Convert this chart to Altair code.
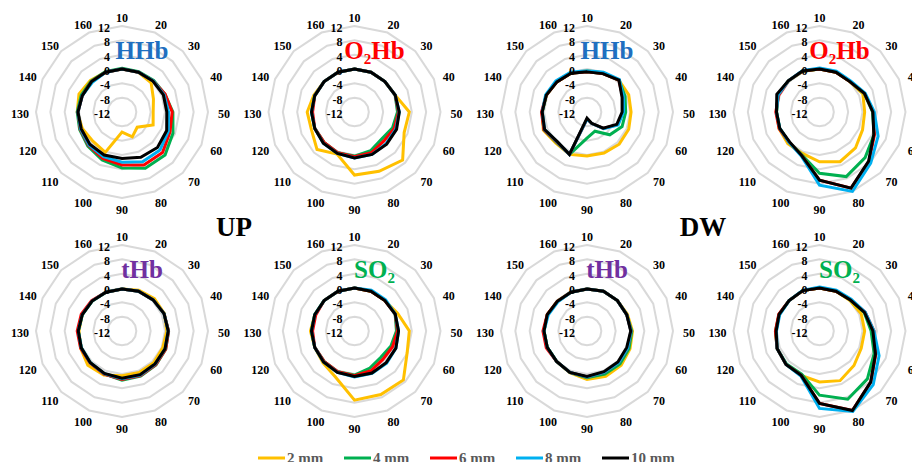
import altair as alt
import pandas as pd

# ---------------- data ----------------
ANGLES = [10, 20, 30, 40, 50, 60, 70, 80, 90, 100, 110, 120, 130, 140, 150, 160]
SERIES = ["2 mm", "4 mm", "6 mm", "8 mm", "10 mm"]
SERIES_COLORS = ["#FFC000", "#00B050", "#FF0000", "#00B0F0", "#000000"]
RING_VALUES = [-8, -4, 0, 4, 8, 12]
TICK_LABELS = [12, 8, 4, 0, -4, -8, -12]
PANEL_TITLES = ["HHb", "O₂Hb", "HHb", "O₂Hb", "tHb", "SO₂", "tHb", "SO₂"]
TITLE_COLORS = ["#1F6FC0", "#FF0000", "#1F6FC0", "#FF0000", "#7030A0", "#00B050", "#7030A0", "#00B050"]
GROUP_LABELS = ["UP", "DW"]

UP_HHB = {
    "2 mm":  [0, 0, -0.5, -2.5, -3.3, -2.6, -6, -4.5, -6.4, 0.2, -0.5, 0, 0.5, 1, 0.5, 0],
    "4 mm":  [0.2, 0.2, 0.5, 1, 2.2, 3.4, 5, 5, 3.6, 2.5, 1.5, 0.8, 0.5, 0.3, 0.2, 0.2],
    "6 mm":  [0, 0, 0.3, 1, 2, 2.5, 4, 4, 2.8, 2, 1.2, 0.6, 0.3, 0, 0, 0],
    "8 mm":  [0, 0, 0.3, 0.7, 1, 2, 3, 3, 2, 1.5, 1, 0.5, 0.3, 0, -0.3, 0],
    "10 mm": [0, 0, 0.2, 0.5, 0.5, 1.5, 2, 1.7, 1, 1, 0.7, 0.3, 0.3, 0, 0, 0],
}
UP_O2HB = {
    "2 mm":  [0, 0, 0, 0.3, 3.3, 3, 7, 5.9, 5.6, 0.7, 2.8, 1, 1.2, 0.3, 0, 0],
    "4 mm":  [0, 0, 0, 0.3, 0, -0.5, -1.3, -0.3, 0.3, 0.3, 0, 0, 0, 0, 0, 0],
    "6 mm":  [0, 0, 0, 0.3, 0.3, 0, -0.5, 0.3, 0.5, 0.3, 0, 0, -0.3, 0, 0, 0],
    "8 mm":  [0, 0, 0, 0.3, 0.5, 0.5, 0.5, 0.8, 0.8, 0.5, 0.3, 0, 0, 0, 0, 0],
    "10 mm": [0, 0, 0, 0.3, 0.5, 0.7, 0.7, 0.8, 0.8, 0.5, 0.3, 0, 0, 0, 0, 0],
}
DW_HHB = {
    "2 mm":  [-0.5, -0.2, 0.6, 0.6, 0.3, 0.6, 0.7, 0.4, 0.3, 0.8, 0.3, 1.2, 0.5, 0.3, -0.1, -0.3],
    "4 mm":  [-0.8, -0.4, 0.6, -0.5, -1.2, -1.4, -3, -6.2, -4.7, 0.8, 0, 1, 0.5, 0.3, -0.1, -0.3],
    "6 mm":  [-0.8, -0.4, 0.6, -1.2, -2, -2.8, -5.5, -8.5, -10, 0.8, -0.1, 1, 0.7, 0.3, -0.1, -0.3],
    "8 mm":  [-0.5, 0, 0.8, -1, -1.8, -2.6, -5.4, -8.5, -10, 0.8, -0.2, 0.8, 0.5, 0.5, 0.3, 0],
    "10 mm": [-0.8, -0.4, 0.6, -1.4, -2.2, -3, -5.6, -8.6, -10.3, 0.8, -0.3, 0.8, 0.5, 0.3, -0.1, -0.3],
}
DW_O2HB = {
    "2 mm":  [0, 0, 0, 1.1, 0.6, 1, 2.2, 3, 1.9, 0.5, 0.5, 0.2, 0, 0.5, 0.3, 0.3],
    "4 mm":  [0, 0, 0, 1.5, 2.8, 4.5, 6, 7.5, 5.1, 0.9, 0, 0, 0, 0.5, 0.3, 0.3],
    "6 mm":  [0, 0, 0, 1.6, 3, 4.6, 7.5, 11, 7, 1.1, 0, 0.2, 0.2, 0.3, 0.3, 0.4],
    "8 mm":  [0.3, 0.3, 0.3, 1.8, 3.3, 5.7, 8.2, 12, 8.4, 1.3, 0, 0, 0, 0.5, 0.3, 0.5],
    "10 mm": [0, 0, 0, 1.6, 2.9, 4.4, 7.4, 11, 7, 1.1, -0.2, 0, 0, 0.9, 0.3, 0.4],
}
UP_THB = {
    "2 mm":  [-0.3, 0.3, 0.8, 0.8, 0.5, 0.3, 0.5, 0.5, 0.5, 1.3, 1.5, 0.5, 0, 0, -0.2, -0.3],
    "4 mm":  [-0.3, 0, 0.3, 0.7, 1, 1.2, 1.4, 1.6, 1.7, 1, 0.5, 0.3, 0.2, 0, -0.2, -0.3],
    "6 mm":  [-0.3, 0, 0.3, 0.7, 1, 1.2, 1.3, 1.5, 1.5, 1, 0.6, 0.5, 0.5, 0.3, 0, -0.3],
    "8 mm":  [-0.3, 0, 0.3, 0.7, 0.9, 1, 1.1, 1.3, 1.3, 0.9, 0.5, 0.3, 0.2, 0, -0.2, -0.3],
    "10 mm": [-0.3, 0, 0.3, 0.7, 0.9, 1, 1, 1.2, 1.2, 0.8, 0.5, 0.3, 0.2, 0, -0.2, -0.3],
}
UP_SO2 = {
    "2 mm":  [0, 0, 0, 1, 3.3, 3.9, 7.3, 7.2, 7.3, 1.9, 0.5, 0, 0.3, 0, 0, 0],
    "4 mm":  [0, 0, 0, 0.3, -0.3, -1, -1.6, -0.8, 0.3, 0.3, 0, 0, 0, 0, 0, 0],
    "6 mm":  [0, 0, 0, 0.3, 0, -0.5, -0.8, 0, 0.5, 0.3, 0, 0, -0.3, -0.3, 0, 0],
    "8 mm":  [0, 0.3, 0.3, 0.3, 0.3, 0.5, 0.7, 0.8, 0.8, 0.5, 0.2, 0, 0, 0, 0, 0],
    "10 mm": [0, 0, 0, 0.3, 0.3, 0.5, 0.5, 0.7, 0.7, 0.5, 0.2, 0, 0, 0, 0, 0],
}
DW_THB = {
    "2 mm":  [-0.3, 0, 0, 0.2, 0.7, 1, 1.5, 1.7, 1.5, 0.6, 0, 0, 0, 0, -0.3, -0.3],
    "4 mm":  [-0.3, 0, 0, 0, 0.5, 0.7, 1, 1, 1, 0.5, 0, 0, 0, 0, -0.3, -0.3],
    "6 mm":  [-0.3, 0, 0, 0, 0.3, 0.3, 0.5, 0.5, 0.8, 0.5, 0, 0.3, 0.3, 0, -0.3, -0.3],
    "8 mm":  [-0.3, 0, 0, 0, 0.3, 0.3, 0.5, 0.5, 0.8, 0.5, 0, 0, 0, -0.3, -0.5, -0.3],
    "10 mm": [-0.3, 0, 0, 0, 0.2, 0, 0.2, 0.3, 0.7, 0.5, 0, 0, 0, 0, -0.3, -0.3],
}
DW_SO2 = {
    "2 mm":  [0, 0, 0, 0.6, 0.6, 0.6, 1.6, 3, 2.2, 1.4, 1.2, 0.8, 0.2, 0.2, 0, 0.2],
    "4 mm":  [0, 0, 0.2, 1.5, 2.4, 4.5, 6.9, 8.6, 5.9, 1, 1, 0.8, 0.3, 0.2, 0, 0.2],
    "6 mm":  [0, 0, 0.3, 1.8, 3.2, 5, 8.2, 12, 8.2, 1.4, 1.2, 0.8, 0.3, 0.3, 0, 0.2],
    "8 mm":  [0.3, 0.3, 0.5, 1.8, 3.2, 6, 9.2, 12.3, 9.6, 1.6, 1.2, 0.8, 0, 0, 0, 0.3],
    "10 mm": [0, 0, 0.2, 1.6, 2.9, 4.9, 8.2, 12, 8.2, 1.4, 1.2, 0.8, 0.1, 0.2, 0, 0.2],
}
PANELS = [UP_HHB, UP_O2HB, DW_HHB, DW_O2HB, UP_THB, UP_SO2, DW_THB, DW_SO2]

# ---------------- layout (plot-area pixel space) ----------------
W, H = 904, 454
RMIN, RMAX = -12, 12
R_PX = 86
CX0, DX = 114, 232.5
CY0, DY = 104, 219
FONT = "Liberation Serif"

# build tables
rows = []
for p, panel in enumerate(PANELS):
    for s in SERIES:
        for a, v in zip(ANGLES, panel[s]):
            rows.append({"panel": p, "series": s, "angle": a, "value": v})
lines_df = pd.DataFrame(rows)

grid_df = pd.DataFrame([{"panel": p, "ring": r, "angle": a, "value": r}
                        for p in range(len(PANELS)) for r in RING_VALUES for a in ANGLES])
tick_df = pd.DataFrame([{"panel": p, "value": t, "label": str(t)}
                        for p in range(len(PANELS)) for t in TICK_LABELS])
ang_df = pd.DataFrame([{"panel": p, "angle": a, "label": str(a)}
                       for p in range(len(PANELS)) for a in ANGLES])
title_df = pd.DataFrame({"panel": list(range(len(PANELS))), "title": PANEL_TITLES, "tcolor": TITLE_COLORS})
group_df = pd.DataFrame({"g": [0, 1], "label": GROUP_LABELS})
leg_df = pd.DataFrame({"i": list(range(len(SERIES))), "series": SERIES})

xs = alt.Scale(domain=[0, W])
ys = alt.Scale(domain=[0, H], reverse=True)
color_scale = alt.Scale(domain=SERIES, range=SERIES_COLORS)


def polar(chart):
    return chart.transform_calculate(
        cx=f"{CX0} + (datum.panel % 4) * {DX}",
        cy=f"{CY0} + floor(datum.panel / 4) * {DY}",
        theta=f"(datum.angle - 10) / 160 * 2 * PI",
        rr=f"(datum.value - ({RMIN})) / ({RMAX} - ({RMIN})) * {R_PX}",
    ).transform_calculate(
        px="datum.cx + datum.rr * sin(datum.theta)",
        py="datum.cy - datum.rr * cos(datum.theta)",
        key="datum.panel + '_' + datum.value",
    )


grid = polar(alt.Chart(grid_df)).transform_calculate(
    key="datum.panel + '_' + datum.ring"
).mark_line(interpolate="linear-closed", color="#D9D9D9", strokeWidth=2).encode(
    x=alt.X("px:Q", scale=xs, axis=None),
    y=alt.Y("py:Q", scale=ys, axis=None),
    detail="key:N",
    order="angle:Q",
)

series_layers = []
for s in SERIES:
    series_layers.append(
        polar(alt.Chart(lines_df)).transform_filter(alt.datum.series == s)
        .mark_line(interpolate="linear-closed", strokeWidth=3, strokeJoin="miter")
        .encode(
            x=alt.X("px:Q", scale=xs, axis=None),
            y=alt.Y("py:Q", scale=ys, axis=None),
            color=alt.Color("series:N", scale=color_scale, legend=None),
            detail="panel:N",
            order="angle:Q",
        )
    )

ticks = alt.Chart(tick_df).transform_calculate(
    cx=f"{CX0} + (datum.panel % 4) * {DX}",
    cy=f"{CY0} + floor(datum.panel / 4) * {DY}",
).transform_calculate(
    px="datum.cx - 12",
    py=f"datum.cy - (datum.value - ({RMIN})) / ({RMAX} - ({RMIN})) * {R_PX} + 2",
).mark_text(align="right", baseline="middle", font=FONT, fontWeight="bold", fontSize=12, color="#000000").encode(
    x=alt.X("px:Q", scale=xs, axis=None), y=alt.Y("py:Q", scale=ys, axis=None), text="label:N"
)

angle_labels = alt.Chart(ang_df).transform_calculate(
    cx=f"{CX0} + (datum.panel % 4) * {DX}",
    cy=f"{CY0} + floor(datum.panel / 4) * {DY}",
    theta="(datum.angle - 10) / 160 * 2 * PI",
).transform_calculate(
    px="datum.cx + 102 * sin(datum.theta)",
    py="datum.cy + 2 - 96 * cos(datum.theta)",
).mark_text(align="center", baseline="middle", font=FONT, fontWeight="bold", fontSize=12, color="#000000").encode(
    x=alt.X("px:Q", scale=xs, axis=None), y=alt.Y("py:Q", scale=ys, axis=None), text="label:N"
)

titles = alt.Chart(title_df).transform_calculate(
    px=f"{CX0} + (datum.panel % 4) * {DX} + 20",
    py=f"{CY0} + floor(datum.panel / 4) * {DY} - 61",
).mark_text(align="center", baseline="middle", font=FONT, fontWeight="bold", fontSize=25).encode(
    x=alt.X("px:Q", scale=xs, axis=None), y=alt.Y("py:Q", scale=ys, axis=None),
    text="title:N", color=alt.Color("tcolor:N", scale=None),
)

groups = alt.Chart(group_df).transform_calculate(
    px="226 + datum.g * 469",
    py="220",
).mark_text(align="center", baseline="middle", font=FONT, fontWeight="bold", fontSize=27, color="#000000").encode(
    x=alt.X("px:Q", scale=xs, axis=None), y=alt.Y("py:Q", scale=ys, axis=None), text="label:N"
)

leg_base = alt.Chart(leg_df).transform_calculate(
    lx="250 + datum.i * 86",
).transform_calculate(
    lx2="datum.lx + 27",
    tx="datum.lx + 29",
    ly="450",
)
leg_lines = leg_base.mark_rule(strokeWidth=3).encode(
    x=alt.X("lx:Q", scale=xs, axis=None), x2="lx2:Q",
    y=alt.Y("ly:Q", scale=ys, axis=None),
    color=alt.Color("series:N", scale=color_scale, legend=None),
)
leg_text = leg_base.mark_text(align="left", baseline="middle", font=FONT, fontWeight="bold", fontSize=15,
                              color="#595959").encode(
    x=alt.X("tx:Q", scale=xs, axis=None), y=alt.Y("ly:Q", scale=ys, axis=None), text="series:N"
)

chart = alt.layer(grid, *series_layers, ticks, angle_labels, titles, groups, leg_lines, leg_text).properties(
    width=W, height=H, padding=0, autosize=alt.AutoSizeParams(type="none"), background="white"
).configure_view(stroke=None)

chart.save("out.html", embed_options={"renderer": "svg", "actions": False})
